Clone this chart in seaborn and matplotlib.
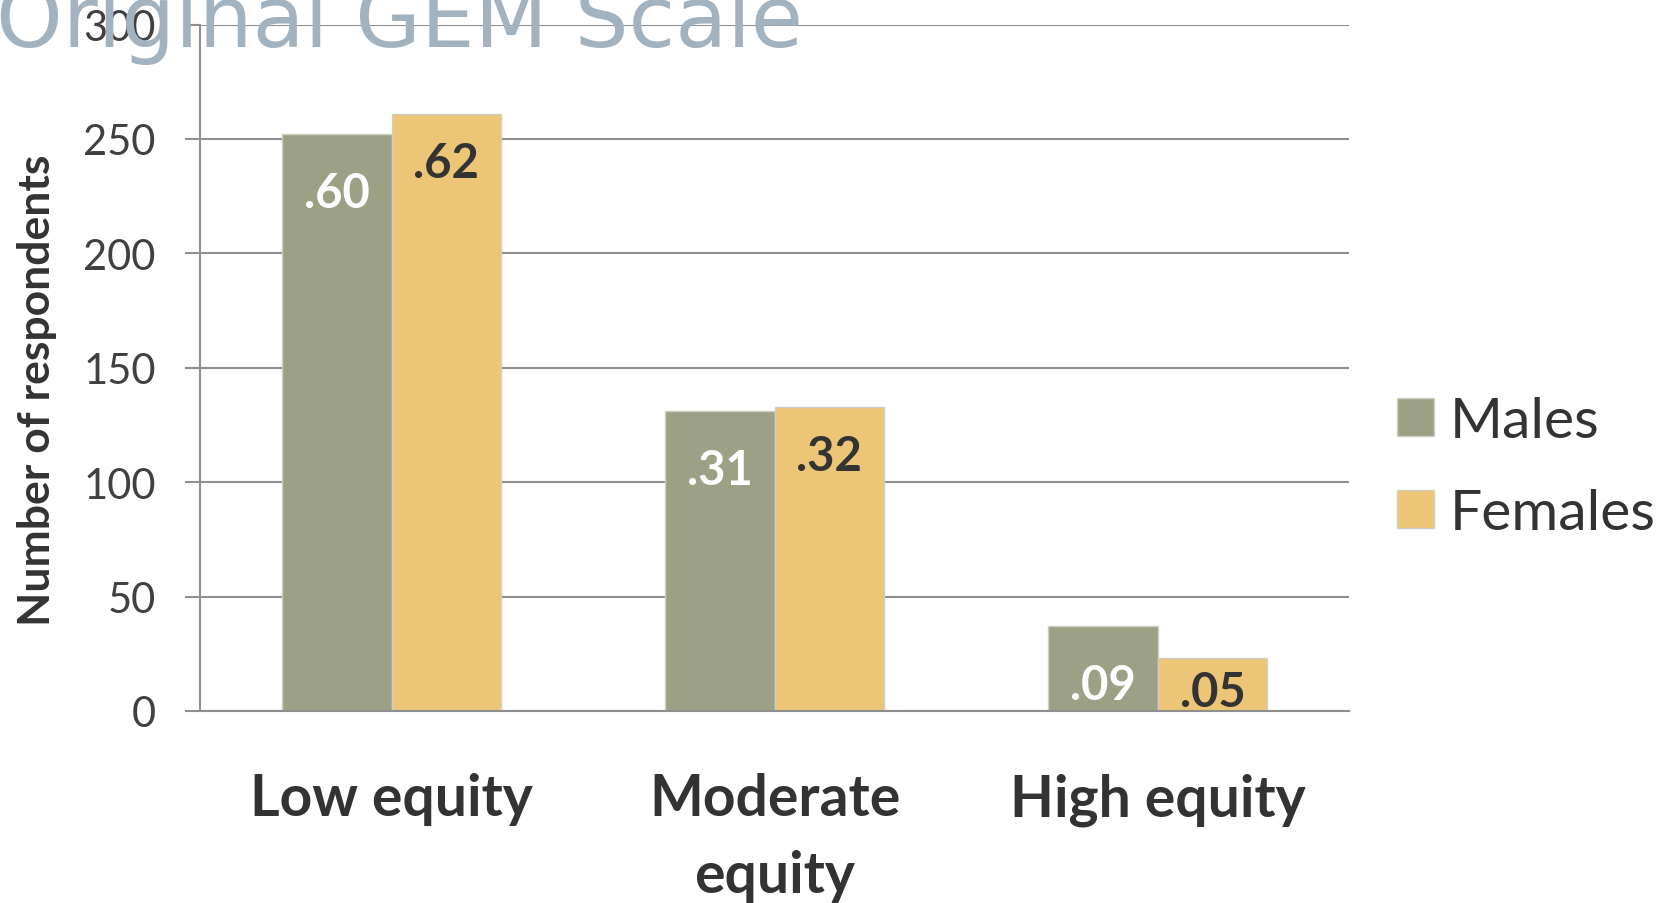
import pandas as pd
import numpy as np
import matplotlib
matplotlib.use("Agg")
import matplotlib.pyplot as plt
import seaborn as sns

# Chart data
categories = ["Low equity", "Moderate\nequity", "High equity"]
males = [252, 131, 37]
females = [261, 133, 23]
male_labels = [".60", ".31", ".09"]
female_labels = [".62", ".32", ".05"]

df = pd.DataFrame({
    "category": categories * 2,
    "group": ["Males"] * 3 + ["Females"] * 3,
    "count": males + females,
})

sns.set_theme(style="white")
plt.rcParams['font.family'] = ['Lato', 'DejaVu Sans']

grey = '#8f8f8f'
dark = '#333333'

fig = plt.figure(figsize=(16.75, 9.04), dpi=100)
ax = fig.add_axes([0.1194, 0.2124, 0.686, 0.7593])

sns.barplot(data=df, x="category", y="count", hue="group",
            palette={"Males": "#9ca186", "Females": "#ecc676"},
            width=0.573, saturation=1, edgecolor='#cfcfc4', linewidth=1, ax=ax)

ax.set_xlim(-0.5, 2.5)
ax.set_ylim(0, 300)
ax.set_yticks(range(0, 301, 50))
ax.set_xlabel("")
ax.set_ylabel("")

# Grid and spines
ax.set_axisbelow(True)
ax.yaxis.grid(True, color=grey, lw=1.5)
for side in ["top", "right"]:
    ax.spines[side].set_visible(False)
for side in ["left", "bottom"]:
    ax.spines[side].set_color(grey)
    ax.spines[side].set_linewidth(1.5)

ax.tick_params(axis='y', left=True, length=11, width=1.5, color=grey,
               pad=21, labelsize=30, labelcolor='#404040')
ax.tick_params(axis='x', bottom=False, length=0, pad=44, labelsize=41)
for lab in ax.get_xticklabels():
    lab.set_fontweight('bold')
    lab.set_color(dark)
    lab.set_linespacing(1.55)

# Value labels inside the bars
for cont, labs, col, off in zip(ax.containers, [male_labels, female_labels],
                                ['white', dark], [25.5, 21.5]):
    for bar, lab in zip(cont, labs):
        h = bar.get_height()
        ax.text(bar.get_x() + bar.get_width() / 2, max(h - off, 8.5), lab,
                ha='center', va='center', fontsize=34, fontweight='bold', color=col)

# Legend
leg = ax.legend(loc='center left', bbox_to_anchor=(1397 / 1675, 1 - 468.5 / 904),
                bbox_transform=fig.transFigure, frameon=False, fontsize=41,
                handlelength=0.65, handleheight=0.65, handletextpad=0.28,
                labelspacing=0.73, borderpad=0, borderaxespad=0)
for t in leg.get_texts():
    t.set_color(dark)

# Axis title
fig.text(37 / 1675, 1 - 390 / 904, "Number of respondents", rotation=90,
         ha='center', va='center', fontsize=32, fontweight='bold', color=dark)

# Overlaid chart title
fig.text(-0.0024, 1 - 47 / 904, "Original GEM Scale", fontsize=61,
         family='DejaVu Sans', color='#a2b2bf', ha='left', va='baseline')

fig.savefig("out.png", dpi=100)
